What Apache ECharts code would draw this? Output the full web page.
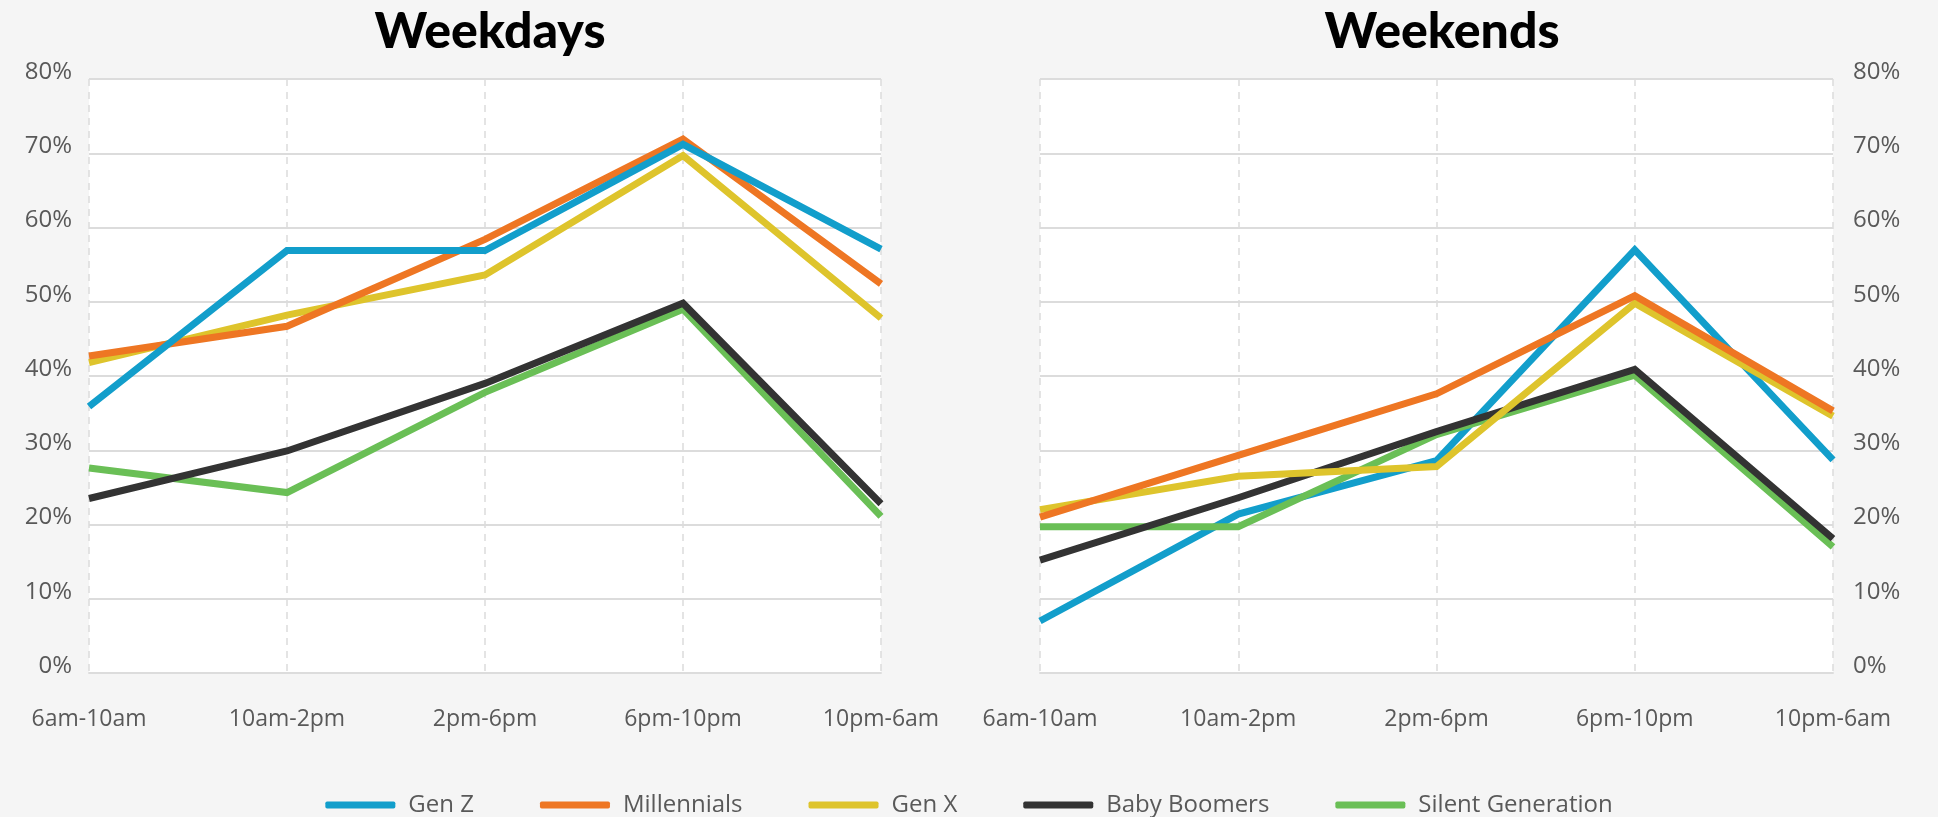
<!DOCTYPE html>
<html>
<head>
<meta charset="utf-8">
<script src="https://cdn.jsdelivr.net/npm/echarts@6/dist/echarts.min.js"></script>
<style>
html,body{margin:0;padding:0;background:#f5f5f5;}
#c{width:1938px;height:817px;}
</style>
</head>
<body>
<div id="c"></div>
<script>
const categories = ['6am-10am','10am-2pm','2pm-6pm','6pm-10pm','10pm-6am'];
const seriesNames = ['Gen Z','Millennials','Gen X','Baby Boomers','Silent Generation'];
const colors = ['#129ECB','#EE7623','#DEC42C','#333333','#6ABF56'];

// Weekdays (%)
const weekdayGenZ        = [35.9, 56.9, 56.9, 71.2, 57.1];
const weekdayMillennials = [42.7, 46.7, 58.4, 71.9, 52.4];
const weekdayGenX        = [41.8, 48.2, 53.6, 69.7, 47.8];
const weekdayBoomers     = [23.5, 29.9, 39.0, 49.8, 22.8];
const weekdaySilent      = [27.6, 24.3, 37.8, 49.0, 21.1];

// Weekends (%)
const weekendGenZ        = [7.0, 21.4, 28.6, 57.0, 28.7];
const weekendMillennials = [21.0, 29.3, 37.6, 50.8, 35.3];
const weekendGenX        = [22.0, 26.5, 27.8, 49.8, 34.6];
const weekendBoomers     = [15.2, 23.6, 32.5, 40.9, 18.1];
const weekendSilent      = [19.7, 19.7, 32.1, 40.1, 17.0];

const titles = ['Weekdays','Weekends'];
const yTicks = [0,10,20,30,40,50,60,70,80];

const weekday = [weekdayGenZ, weekdayMillennials, weekdayGenX, weekdayBoomers, weekdaySilent];
const weekend = [weekendGenZ, weekendMillennials, weekendGenX, weekendBoomers, weekendSilent];

const labelFont = '"Open Sans", "Noto Sans", sans-serif';
const gridColor = '#dcdcdc';

function xAxis(gi){
  return {
    type:'category', gridIndex:gi, data:categories, boundaryGap:false,
    axisLine:{show:true, lineStyle:{color:gridColor, width:2}},
    axisTick:{show:false},
    axisLabel:{color:'#595959', fontSize:23, fontWeight:400, fontFamily:labelFont, margin:35},
    splitLine:{show:true, lineStyle:{color:gridColor, width:1.5, type:[7,6]}}
  };
}
function yAxis(gi, pos){
  return {
    type:'value', gridIndex:gi, min:yTicks[0], max:yTicks[yTicks.length-1], interval:10,
    position:pos,
    axisLine:{show:false}, axisTick:{show:false},
    axisLabel:{color:'#595959', fontSize:24, fontWeight:400, fontFamily:labelFont,
      margin: pos==='left'?17:20, formatter:v=>v+'%', verticalAlign:'bottom', lineHeight:14},
    splitLine:{show:true, lineStyle:{color:gridColor, width:2}}
  };
}

const series = [];
[weekday, weekend].forEach((set, gi)=>{
  set.forEach((vals, i)=>{
    series.push({
      name:seriesNames[i], type:'line', xAxisIndex:gi, yAxisIndex:gi,
      data:vals, symbol:'none', color:colors[i],
      lineStyle:{width:7, color:colors[i], join:'miter'},
      z: 10 + (gi===0 ? [5,4,3,2,1][i] : [1,5,4,3,2][i])
    });
  });
});

const option = {
  backgroundColor:'#f5f5f5',
  animation:false,
  title:[
    {text:titles[0], left:485, top:2, textAlign:'center',
      textStyle:{fontSize:50, fontWeight:900, fontFamily:'Lato, sans-serif', color:'#000'}},
    {text:titles[1], left:1437, top:2, textAlign:'center',
      textStyle:{fontSize:50, fontWeight:900, fontFamily:'Lato, sans-serif', color:'#000'}}
  ],
  grid:[
    {left:89, top:79, width:792, height:594, backgroundColor:'#ffffff', show:true, borderWidth:0},
    {left:1040, top:79, width:793, height:594, backgroundColor:'#ffffff', show:true, borderWidth:0}
  ],
  legend:{
    data:seriesNames, left:'center', top:788, icon:'roundRect',
    itemWidth:70, itemHeight:7, itemGap:66,
    textStyle:{color:'#595959', fontSize:24, fontWeight:400, fontFamily:labelFont, padding:[0,0,0,8]}
  },
  xAxis:[xAxis(0), xAxis(1)],
  yAxis:[yAxis(0,'left'), yAxis(1,'right')],
  series:series
};

const chart = echarts.init(document.getElementById('c'), null, {renderer:'canvas'});
chart.setOption(option);
</script>
</body>
</html>
